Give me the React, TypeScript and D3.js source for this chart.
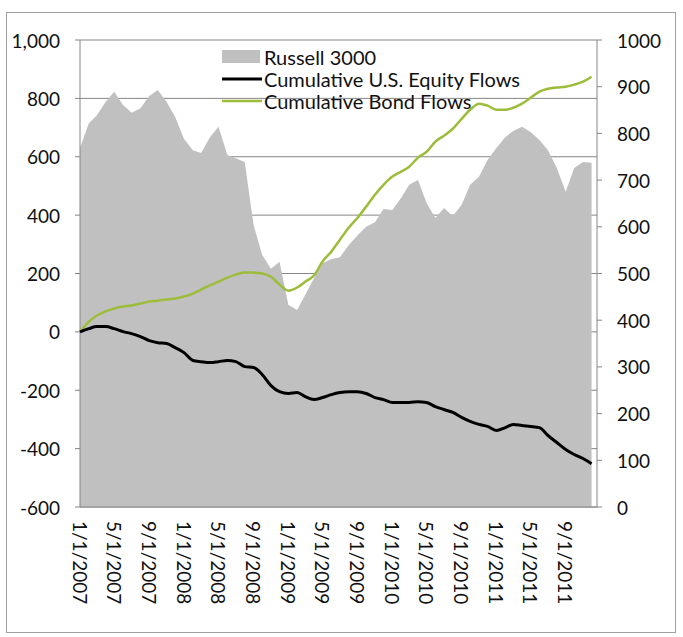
import React from "react";
import * as d3 from "d3";

// monthly observations, Jan 2007 - Dec 2011
const months = d3.timeMonth.range(new Date(2007, 0, 1), new Date(2012, 0, 1));

// Russell 3000 index level (right axis)
const russell3000 = [
  769, 822, 839, 867, 889, 861, 844, 854, 880, 893, 867, 835,
  788, 764, 758, 792, 814, 754, 747, 739, 604, 540, 510, 525,
  433, 422, 454, 490, 522, 531, 535, 561, 582, 600, 610, 638,
  636, 662, 690, 700, 651, 619, 640, 623, 647, 690, 707, 743,
  769, 792, 805, 814, 803, 786, 764, 726, 675, 726, 739, 737,
];

// cumulative U.S. equity fund flows (left axis)
const equityFlows = [
  0, 11, 18, 18, 11, 1, -6, -16, -30, -37, -40, -54,
  -71, -98, -102, -105, -102, -98, -102, -119, -122, -146, -184, -205,
  -211, -208, -222, -232, -225, -215, -208, -205, -205, -211, -225, -232,
  -242, -242, -242, -239, -242, -256, -266, -276, -293, -307, -317, -324,
  -338, -328, -317, -321, -324, -328, -355, -379, -403, -420, -434, -452,
];

// cumulative bond fund flows (left axis)
const bondFlows = [
  0, 35, 56, 70, 80, 87, 90, 97, 104, 107, 111, 114,
  121, 131, 145, 159, 172, 186, 196, 203, 203, 200, 189, 162,
  141, 152, 172, 193, 241, 275, 316, 357, 391, 429, 470, 504,
  532, 549, 566, 597, 617, 652, 672, 696, 730, 761, 782, 775,
  761, 761, 768, 782, 802, 823, 833, 837, 840, 847, 857, 874,
];

const xTickLabels = [
  "1/1/2007", "5/1/2007", "9/1/2007", "1/1/2008", "5/1/2008", "9/1/2008",
  "1/1/2009", "5/1/2009", "9/1/2009", "1/1/2010", "5/1/2010", "9/1/2010",
  "1/1/2011", "5/1/2011", "9/1/2011",
];
const leftTicks = [-600, -400, -200, 0, 200, 400, 600, 800, 1000];
const rightTicks = [0, 100, 200, 300, 400, 500, 600, 700, 800, 900, 1000];

const W = 683;
const H = 637;
const plot = { left: 80, right: 597, top: 40, bottom: 507 };
const FONT = "Lato, Carlito, Calibri, sans-serif";
const GREEN = "#9dbd3a";
const GRAY_AREA = "#c0c0c0";
const AXIS = "#868686";
const TICK_FS = 19;

export default function App() {
  const parse = d3.timeParse("%m/%d/%Y");
  const x = d3
    .scaleTime()
    .domain([new Date(2007, 0, 1), new Date(2011, 11, 20)])
    .range([plot.left, plot.right]);
  const yLeft = d3.scaleLinear().domain([-600, 1000]).range([plot.bottom, plot.top]);
  const yRight = d3.scaleLinear().domain([0, 1000]).range([plot.bottom, plot.top]);

  const area = d3
    .area<number>()
    .x((_, i) => x(months[i]))
    .y0(yRight(0))
    .y1((d) => yRight(d));
  const line = d3
    .line<number>()
    .x((_, i) => x(months[i]))
    .y((d) => yLeft(d))
    .curve(d3.curveMonotoneX);

  // excel style: thousands comma, plain hyphen for negatives
  const fmt = (v: number) => d3.format(",")(v).replace("\u2212", "-");

  return (
    <svg
      width={W}
      height={H}
      style={{ position: "absolute", left: 0, top: 0, background: "#fff" }}
      fontFamily={FONT}
    >
      {/* chart border */}
      <rect x={6.5} y={12.5} width={669} height={620} fill="#fff" stroke="#a0a0a0" />

      {/* gridlines */}
      {leftTicks.map((t) => (
        <line
          key={"g" + t}
          x1={plot.left}
          x2={plot.right}
          y1={yLeft(t)}
          y2={yLeft(t)}
          stroke={AXIS}
          strokeWidth={1}
        />
      ))}

      {/* Russell 3000 area */}
      <path d={area(russell3000) ?? ""} fill={GRAY_AREA} />

      {/* axes */}
      <line x1={plot.left} x2={plot.left} y1={plot.top} y2={plot.bottom} stroke={AXIS} />
      <line x1={plot.right} x2={plot.right} y1={plot.top} y2={plot.bottom} stroke={AXIS} />
      <line x1={plot.left} x2={plot.right} y1={plot.bottom} y2={plot.bottom} stroke={AXIS} />

      {leftTicks.map((t) => (
        <g key={"l" + t}>
          <line x1={plot.left - 5} x2={plot.left} y1={yLeft(t)} y2={yLeft(t)} stroke={AXIS} />
          <text
            x={plot.left - 20}
            y={yLeft(t)}
            textAnchor="end"
            dominantBaseline="central"
            fontSize={TICK_FS}
            fill="#111"
          >
            {fmt(t)}
          </text>
        </g>
      ))}
      {rightTicks.map((t) => (
        <g key={"r" + t}>
          <line x1={plot.right} x2={plot.right + 5} y1={yRight(t)} y2={yRight(t)} stroke={AXIS} />
          <text
            x={plot.right + 20}
            y={yRight(t)}
            dominantBaseline="central"
            fontSize={TICK_FS}
            fill="#111"
          >
            {t}
          </text>
        </g>
      ))}
      {xTickLabels.map((s) => {
        const px = x(parse(s) as Date);
        return (
          <text
            key={s}
            transform={`translate(${px},${plot.bottom + 14}) rotate(90)`}
            dominantBaseline="central"
            fontSize={TICK_FS}
            fill="#111"
          >
            {s}
          </text>
        );
      })}

      {/* flow lines */}
      <path d={line(bondFlows) ?? ""} fill="none" stroke={GREEN} strokeWidth={2.5} />
      <path d={line(equityFlows) ?? ""} fill="none" stroke="#000" strokeWidth={3} />

      {/* legend */}
      <g fontSize={20} fill="#111">
        <rect x={222} y={50} width={38} height={13} fill={GRAY_AREA} />
        <text x={264} y={57} dominantBaseline="central">Russell 3000</text>
        <line x1={222} x2={262} y1={79} y2={79} stroke="#000" strokeWidth={3} />
        <text x={264} y={79} dominantBaseline="central">Cumulative U.S. Equity Flows</text>
        <line x1={222} x2={262} y1={101} y2={101} stroke={GREEN} strokeWidth={2.5} />
        <text x={264} y={101} dominantBaseline="central">Cumulative Bond Flows</text>
      </g>
    </svg>
  );
}
